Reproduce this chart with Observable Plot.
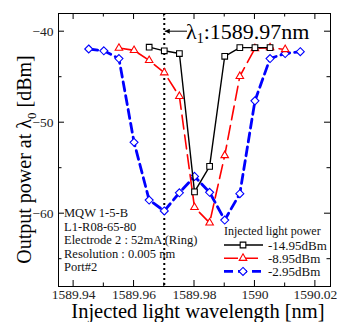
<!DOCTYPE html>
<html><head><meta charset="utf-8">
<script src="https://cdn.jsdelivr.net/npm/d3@7"></script>
<script src="https://cdn.jsdelivr.net/npm/@observablehq/plot@0.6"></script>
<style>body{margin:0;background:#fff}svg{font-family:"Liberation Serif",serif}</style>
</head><body><div id="chart"></div>
<script>
const wl = [1589.945,1589.95,1589.955,1589.96,1589.965,1589.97,1589.975,1589.98,1589.985,1589.99,1589.995,1590.0,1590.005,1590.01,1590.015];
const seriesNames = ["-14.95dBm","-8.95dBm","-2.95dBm"];
const blackVals = [null,null,null,null,-41.7,-42.1,-42.4,-57.6,-54.8,-42.7,-41.75,-41.75,-41.75,null,null];
const redVals   = [null,null,-41.8,-42.05,-43.15,-44.5,-47.1,-59.3,-61.0,-53.6,-44.9,-41.85,-41.75,-41.95,null];
const blueVals  = [-41.9,-42.1,-42.95,-52.15,-58.5,-59.7,-57.7,-55.9,-57.65,-60.7,-57.8,-47.6,-42.95,-42.4,-42.2];
const xTicks = [1589.94,1589.96,1589.98,1590.0,1590.02];
const xTickLabels = ["1589.94","1589.96","1589.98","1590","1590.02"];
const xMinor = [1589.95,1589.97,1589.99,1590.01];
const yTicks = [-40,-50,-60];
const yMinor = [-45,-55,-65];
const markerLine = 1589.97;
const annotation = ["λ","1",":1589.97nm"];
const infoLines = ["MQW 1-5-B","L1-R08-65-80","Electrode 2 : 52mA (Ring)","Resolution : 0.005 nm","Port#2"];
const legendTitle = "Injected light power";

const colors = ["#000000","#ff0000","#0000ff"];
const symbols = ["square2","triangle2","diamond2"];
const dashes = [null,"14,6","9,5"];
const widths = [1.4,1.6,2.8];

function rows(vals, s){ return wl.map((x,i)=>({x, y: vals[i], s})).filter(d=>d.y!=null); }
const data = [rows(blackVals,0), rows(redVals,1), rows(blueVals,2)];

const marks = [];
marks.push(Plot.ruleX([markerLine], {stroke:"#000", strokeWidth:2, strokeDasharray:"2,3"}));
[2,1,0].forEach(k=>{
  marks.push(Plot.line(data[k], {x:"x", y:"y", stroke: colors[k], strokeWidth: widths[k], strokeDasharray: dashes[k]}));
  marks.push(Plot.dot(data[k], {x:"x", y:"y", symbol: ()=>symbols[k], stroke: colors[k], fill:"#fff", r:3.6, strokeWidth:1.1}));
});
marks.push(Plot.frame({stroke:"#000", strokeWidth:1}));
marks.push(Plot.axisX(xTicks, {tickSize:0, tickPadding:3, tickFormat:(d,i)=>xTickLabels[i], fontSize:13.5, fill:"#222", label:null}));
marks.push(Plot.axisY(yTicks, {tickSize:0, tickPadding:5, fontSize:13.5, fill:"#222", label:null}));

const plot = Plot.plot({
  width:337, height:322,
  marginTop:13, marginBottom:36, marginLeft:58, marginRight:7,
  x:{domain:[1589.935,1590.025]},
  y:{domain:[-68,-38]},
  style:{fontFamily:"Liberation Serif, serif", background:"#fff"},
  marks
});
document.getElementById("chart").appendChild(plot);

const sx = plot.scale("x"), sy = plot.scale("y");
const svg = d3.select(plot);
const L=58, R=330, T=13, B=286;
const g = svg.append("g").attr("stroke","#000").attr("stroke-width",1);
xTicks.forEach(v=>{const p=sx.apply(v); g.append("line").attr("x1",p).attr("x2",p).attr("y1",B).attr("y2",B-6); g.append("line").attr("x1",p).attr("x2",p).attr("y1",T).attr("y2",T+6);});
xMinor.forEach(v=>{const p=sx.apply(v); g.append("line").attr("x1",p).attr("x2",p).attr("y1",B).attr("y2",B-3.5); g.append("line").attr("x1",p).attr("x2",p).attr("y1",T).attr("y2",T+3.5);});
yTicks.forEach(v=>{const p=sy.apply(v); g.append("line").attr("y1",p).attr("y2",p).attr("x1",L).attr("x2",L+6); g.append("line").attr("y1",p).attr("y2",p).attr("x1",R).attr("x2",R-6);});
yMinor.forEach(v=>{const p=sy.apply(v); g.append("line").attr("y1",p).attr("y2",p).attr("x1",L).attr("x2",L+3.5); g.append("line").attr("y1",p).attr("y2",p).attr("x1",R).attr("x2",R-3.5);});

// axis labels
svg.append("text").attr("x",(L+R)/2+4).attr("y",318).attr("text-anchor","middle").attr("font-size",20.5).attr("fill","#000").text("Injected light wavelength [nm]");
const yl = svg.append("text").attr("transform",`translate(31,${(T+B)/2+10}) rotate(-90)`).attr("text-anchor","middle").attr("font-size",20).attr("fill","#000");
yl.append("tspan").text("Output power at λ");
yl.append("tspan").attr("font-size",13).attr("dy",5).text("0");
yl.append("tspan").attr("dy",-5).text(" [dBm]");

// annotation arrow
const ax = sx.apply(markerLine), ay = sy.apply(-40);
svg.append("defs").html('<marker id="ah" viewBox="0 0 10 10" refX="10" refY="5" markerWidth="8" markerHeight="5" orient="auto-start-reverse" markerUnits="userSpaceOnUse"><path d="M0,0L10,5L0,10z" fill="#000"/></marker>');
svg.append("line").attr("x1",187).attr("y1",ay).attr("x2",ax+1).attr("y2",ay).attr("stroke","#000").attr("stroke-width",1).attr("marker-end","url(#ah)");
const at = svg.append("text").attr("x",186).attr("y",ay+7.5).attr("text-anchor","start").attr("font-size",22).attr("fill","#000");
at.append("tspan").text(annotation[0]);
at.append("tspan").attr("font-size",14).attr("dy",4).text(annotation[1]);
at.append("tspan").attr("dy",-4).text(annotation[2]);

// info text
infoLines.forEach((t,i)=>svg.append("text").attr("x",64).attr("y",217+i*13.5).attr("text-anchor","start").attr("font-size",12.5).attr("fill","#111").text(t));

// legend
svg.append("text").attr("x",224).attr("y",235).attr("text-anchor","start").attr("font-size",12).attr("fill","#111").text(legendTitle);
seriesNames.forEach((n,k)=>{
  const y = 245+k*13.2;
  svg.append("line").attr("x1",224).attr("x2",263).attr("y1",y).attr("y2",y).attr("stroke",colors[k]).attr("stroke-width",widths[k]).attr("stroke-dasharray",dashes[k]);
  const sym = d3.symbol(k===0?d3.symbolSquare2:k===1?d3.symbolTriangle2:d3.symbolDiamond2, Math.PI*3.6*3.6)();
  svg.append("path").attr("d",sym).attr("transform",`translate(243,${y})`).attr("fill","#fff").attr("stroke",colors[k]).attr("stroke-width",1.1);
  svg.append("text").attr("x",268).attr("y",y+4.5).attr("text-anchor","start").attr("font-size",13).attr("fill","#111").text(n);
});
</script></body></html>
